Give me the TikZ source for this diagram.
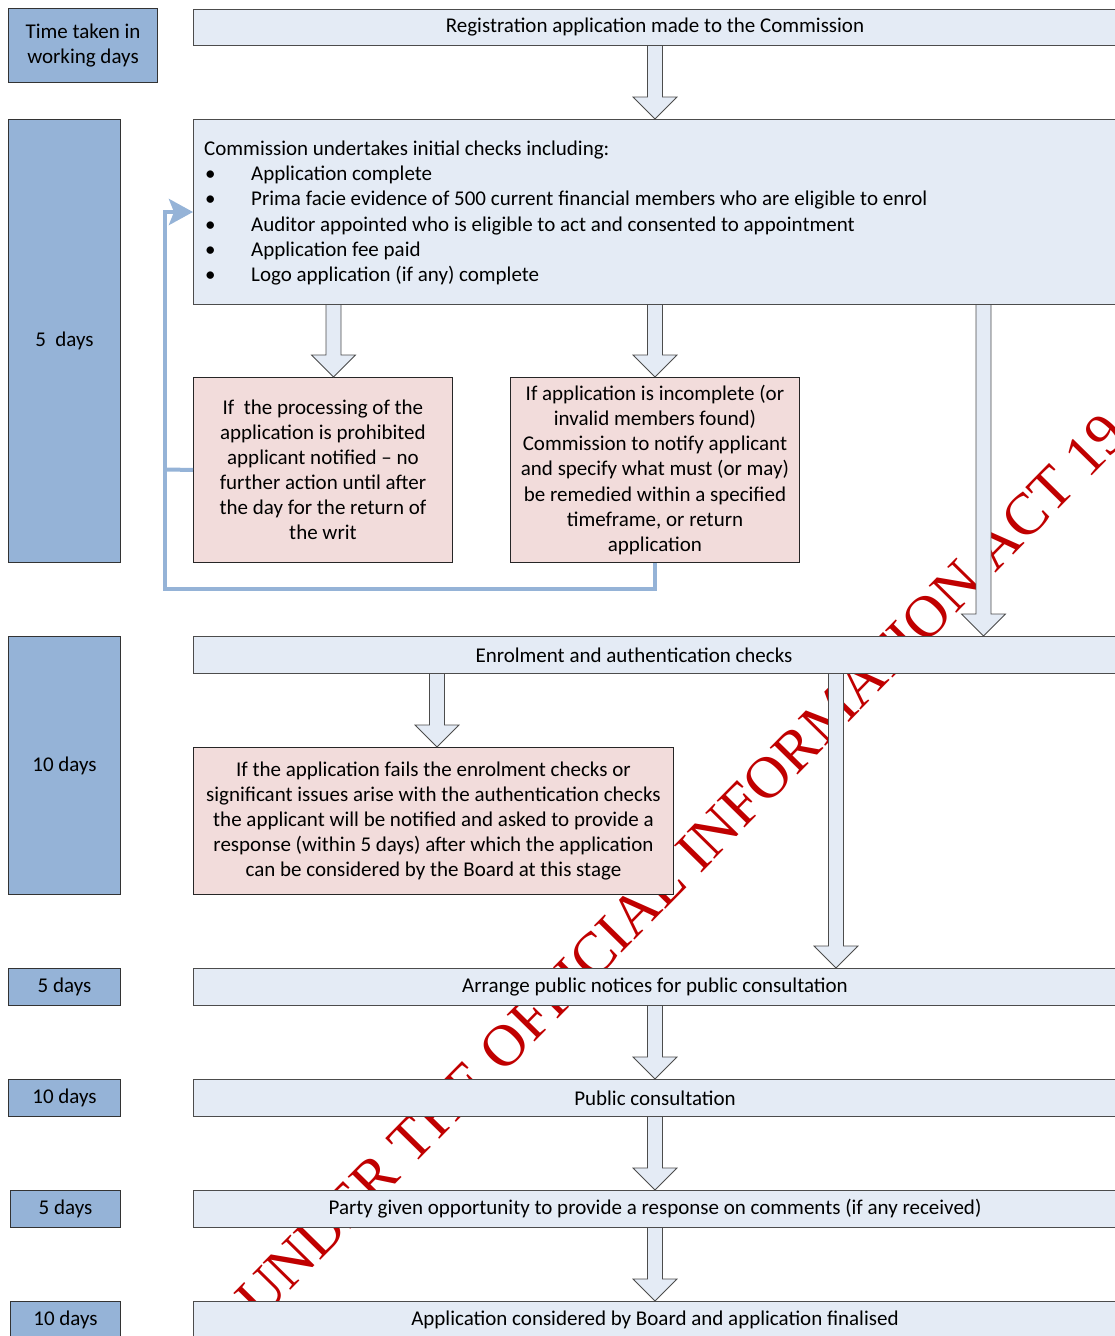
\documentclass[tikz,border=0pt]{standalone}
\usepackage{fontspec}
\setmainfont{Carlito}
\newfontfamily\wmfont{Liberation Serif}
\usetikzlibrary{calc,arrows.meta}
\definecolor{dayblue}{HTML}{95B3D7}
\definecolor{boxblue}{HTML}{E4EBF5}
\definecolor{pinkbox}{HTML}{F2DCDB}
\definecolor{wmred}{HTML}{C00000}
\tikzset{
 txt/.style={font=\fontsize{21}{25.1}\selectfont},
 daybox/.style={draw=black!80, line width=1pt, fill=dayblue, anchor=north west, inner sep=0, align=center, txt},
 mainbox/.style={draw=black!70, line width=1pt, fill=boxblue, anchor=north west, inner sep=0, align=center, txt},
 pinkb/.style={draw=black!85, line width=0.9pt, fill=pinkbox, anchor=north west, inner sep=0, align=center, txt},
 blockarr/.style={draw=black!70, line width=0.8pt, fill=boxblue, line join=miter},
 fb/.style={draw=dayblue, line width=4pt},
 wmark/.style={text=wmred, font=\wmfont\fontsize{59}{59}\selectfont, inner sep=0},
}
\newcommand\barrow[3]{%
  \path (#1,0 |- #2) coordinate (ba-s) (#1,0 |- #3) coordinate (ba-t);
  \draw[blockarr] ($(ba-s)+(-7.5,0)$) -- ($(ba-t)+(-7.5,-22)$) -- ($(ba-t)+(-22,-22)$) -- (ba-t)
     -- ($(ba-t)+(22,-22)$) -- ($(ba-t)+(7.5,-22)$) -- ($(ba-s)+(7.5,0)$);}
\begin{document}
\begin{tikzpicture}[x=1pt,y=-1pt]
\useasboundingbox (0,0) rectangle (1115,1336);
\clip (0,0) rectangle (1115,1336);
% watermark
\node[wmark, rotate=45.5, anchor=base west] (wm) at (260,1322) {UNDER THE OFFICIAL INFORMATION ACT 19};
% day boxes
\node[daybox, minimum width=149, minimum height=74] (time) at (8,8) {Time taken in\\working days};
\node[daybox, minimum width=112, minimum height=443] (d1) at (8,119) {5~ days};
\node[daybox, minimum width=112, minimum height=258] (d2) at (8,636) {10 days};
\node[daybox, minimum width=112, minimum height=37] (d3) at (8,968) {5 days};
\node[daybox, minimum width=112, minimum height=37] (d4) at (8,1079) {10 days};
\node[daybox, minimum width=110, minimum height=37] (d5) at (10,1190) {5 days};
\node[daybox, minimum width=110, minimum height=37] (d6) at (10,1301) {10 days};
% main boxes
\node[mainbox, minimum width=923, minimum height=36] (reg) at (193,9) {Registration application made to the Commission};
\node[mainbox, minimum width=923, minimum height=185] (comm) at (193,119) {};
\node[anchor=north west, inner sep=0, align=left, txt] (commtxt) at (204,141) {Commission undertakes initial checks including:\\
\makebox[47pt][l]{\hspace{1pt}•}Application complete\\
\makebox[47pt][l]{\hspace{1pt}•}Prima facie evidence of 500 current financial members who are eligible to enrol\\
\makebox[47pt][l]{\hspace{1pt}•}Auditor appointed who is eligible to act and consented to appointment\\
\makebox[47pt][l]{\hspace{1pt}•}Application fee paid\\
\makebox[47pt][l]{\hspace{1pt}•}Logo application (if any) complete};
\node[mainbox, minimum width=923, minimum height=37] (enrol) at (193,636) {Enrolment and authentication checks\hspace*{42pt}};
\node[mainbox, minimum width=923, minimum height=37] (arr) at (193,968) {Arrange public notices for public consultation};
\node[mainbox, minimum width=923, minimum height=37] (pub) at (193,1079) {Public consultation};
\node[mainbox, minimum width=923, minimum height=37] (party) at (193,1190) {Party given opportunity to provide a response on comments (if any received)};
\node[mainbox, minimum width=923, minimum height=37] (app) at (193,1301) {Application considered by Board and application finalised};
% pink boxes
\node[pinkb, minimum width=259, minimum height=185] (pink1) at (193,377) {If~ the processing of the\\application is prohibited\\applicant notified -- no\\further action until after\\the day for the return of\\the writ};
\node[pinkb, minimum width=289, minimum height=185] (pink2) at (510,377) {If application is incomplete (or\\invalid members found)\\Commission to notify applicant\\and specify what must (or may)\\be remedied within a specified\\timeframe, or return\\application};
\node[pinkb, minimum width=480, minimum height=147] (pink3) at (193,747) {If the application fails the enrolment checks or\\significant issues arise with the authentication checks\\the applicant will be notified and asked to provide a\\response (within 5 days) after which the application\\can be considered by the Board at this stage};
% feedback connector
\draw[fb, -{Stealth[length=24pt,width=26pt,inset=5pt]}] (pink2.south) |- (165,589) |- (comm.west);
\draw[fb] (pink1.west) -- (165,469.5);
% block arrows
\barrow{655}{reg.south}{comm.north}
\barrow{333.5}{comm.south}{pink1.north}
\barrow{655}{comm.south}{pink2.north}
\barrow{983.5}{comm.south}{enrol.north}
\barrow{437}{enrol.south}{pink3.north}
\barrow{836}{enrol.south}{arr.north}
\barrow{655}{arr.south}{pub.north}
\barrow{655}{pub.south}{party.north}
\barrow{655}{party.south}{app.north}
\end{tikzpicture}
\end{document}
